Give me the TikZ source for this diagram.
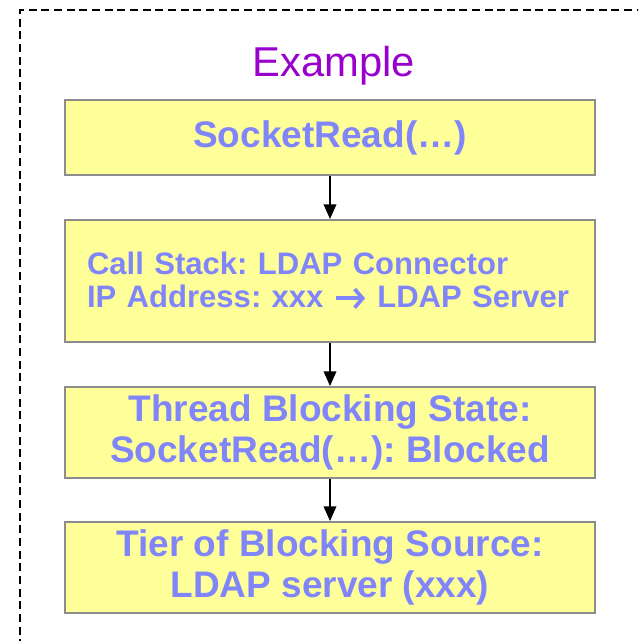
\documentclass[tikz,border=0pt]{standalone}
\usepackage{fontspec}
\setmainfont{Liberation Sans}
\usetikzlibrary{arrows.meta}
\definecolor{txtblue}{RGB}{128,134,250}
\definecolor{boxfill}{RGB}{255,255,153}
\definecolor{boxline}{RGB}{140,140,140}
\definecolor{titlepurple}{RGB}{153,0,204}
\frenchspacing
\hfuzz=200pt
\newcommand{\bigarrowglyph}{\tikz[baseline=0pt]{\draw[txtblue,line width=2.8pt,-{Straight Barb[length=6pt,width=14pt]}] (0pt,7.2pt) -- (22pt,7.2pt);}}
\tikzset{
  stagebox/.style={draw=boxline, line width=1.5pt, fill=boxfill, minimum width=397.5pt,
    inner sep=0pt, text=txtblue, font=\bfseries\fontsize{27.75}{30.75}\selectfont, align=center},
  flowarrow/.style={line width=1.1pt, -{Triangle[length=11pt,width=9.5pt]}},
}
\begin{document}
\begin{tikzpicture}[x=0.75pt,y=-0.75pt]
\useasboundingbox (0,0) rectangle (638,641);
\begin{scope}
\clip (0,0) rectangle (638,641);
\draw[line width=0.9pt, dash pattern=on 6pt off 3.5pt] (20,660) -- (20,10) -- (660,10);
\end{scope}
\node[text=titlepurple, font=\fontsize{31.3}{36}\selectfont] (title) at (334,66) {Example};
\node[stagebox, minimum height=56.25pt] (b1) at (330,137.5) {SocketRead(…)};
\node[stagebox, minimum height=91.5pt, text width=364.5pt, align=left,
      font=\bfseries\fontsize{23.3}{24.75}\selectfont] (b2) at (330,281)
      {\mbox{Call Stack: LDAP Connector}\\\mbox{IP Address: xxx \bigarrowglyph\ LDAP Server}};
\node[stagebox, minimum height=68.25pt] (b3) at (330,432.5)
      {Thread Blocking State:\\SocketRead(…): Blocked};
\node[stagebox, minimum height=68.25pt] (b4) at (330,567.5)
      {Tier of Blocking Source:\\LDAP server (xxx)};
\draw[flowarrow] (b1.south) -- (b2.north);
\draw[flowarrow] (b2.south) -- (b3.north);
\draw[flowarrow] (b3.south) -- (b4.north);
\end{tikzpicture}
\end{document}
